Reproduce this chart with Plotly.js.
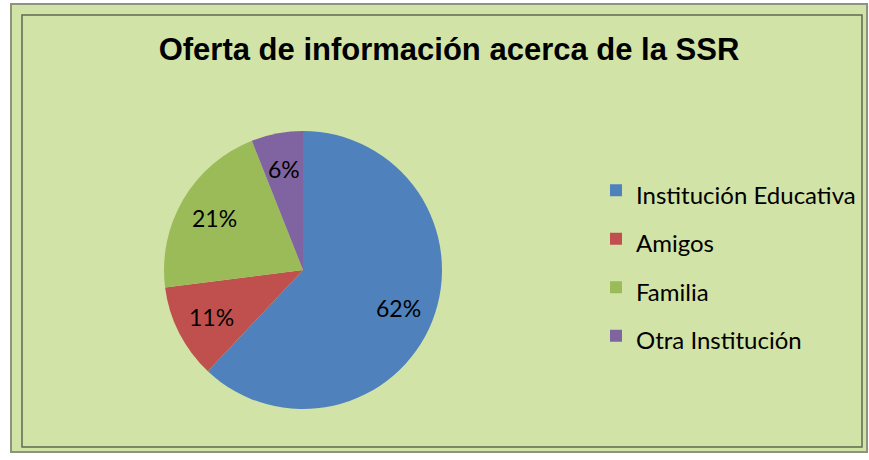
<!DOCTYPE html>
<html>
<head>
<meta charset="utf-8">
<script src="https://cdn.plot.ly/plotly-3.0.1.min.js"></script>
<style>html,body{margin:0;padding:0;background:#fff;}#chart{width:869px;height:460px;}</style>
</head>
<body>
<div id="chart"></div>
<script>
const categories = ["Institución Educativa", "Amigos", "Familia", "Otra Institución"];
const values = [62, 11, 21, 6];
const colors = ["#4f81bd", "#c0504d", "#9bbb59", "#8064a2"];
const titleText = "Oferta de información acerca de la SSR";

const W = 869, H = 460;
const px = x => x / W;
const py = y => 1 - y / H;

// pie placement (pixels)
const pieX0 = 164, pieX1 = 442, pieYTop = 131, pieYBot = 409;
const cx = (pieX0 + pieX1) / 2, cy = (pieYTop + pieYBot) / 2, R = (pieX1 - pieX0) / 2;

const trace = {
  type: "pie",
  labels: categories.map(c => "<span style='font-size:24px'>" + c + "</span>"),
  values: values,
  sort: false,
  direction: "clockwise",
  rotation: 0,
  marker: {colors: colors, line: {width: 0}},
  textinfo: "none",
  hoverinfo: "label+percent",
  domain: {x: [px(pieX0), px(pieX1)], y: [py(pieYBot), py(pieYTop)]}
};

// percentage labels placed along each slice's mid-angle, derived from values
const total = values.reduce((a, b) => a + b, 0);
let cum = 0;
const annotations = values.map(v => {
  const mid = (cum + v / 2) / total * 2 * Math.PI;
  cum += v;
  const r = 0.74 * R;
  return {
    xref: "paper", yref: "paper",
    x: px(cx + r * Math.sin(mid)), y: py(cy - r * Math.cos(mid)),
    text: Math.round(v / total * 100) + "%",
    showarrow: false, xanchor: "center", yanchor: "middle",
    font: {family: "Lato, sans-serif", size: 23, color: "#000"}
  };
});

const layout = {
  width: W, height: H,
  margin: {l: 0, r: 0, t: 0, b: 0},
  paper_bgcolor: "#ffffff",
  showlegend: true,
  title: {
    text: "<b>" + titleText + "</b>",
    font: {family: "Liberation Sans, Arial, sans-serif", size: 31, color: "#000"},
    x: px(449), xanchor: "center", xref: "paper",
    y: py(49), yanchor: "middle", yref: "paper"
  },
  legend: {
    x: px(596), xanchor: "left",
    y: py(263), yanchor: "middle",
    font: {family: "Lato, sans-serif", size: 35, color: "#000"},
    bgcolor: "rgba(0,0,0,0)",
    traceorder: "normal"
  },
  annotations: annotations,
  shapes: [
    {type: "rect", xref: "paper", yref: "paper", layer: "below",
     x0: px(11), x1: px(867), y0: py(452), y1: py(4),
     fillcolor: "#d2e3a7", line: {color: "#8c9480", width: 2}},
    {type: "rect", xref: "paper", yref: "paper", layer: "below",
     x0: px(22), x1: px(862), y0: py(447), y1: py(15),
     fillcolor: "rgba(0,0,0,0)", line: {color: "#5f6b52", width: 1.5}}
  ]
};

Plotly.newPlot("chart", [trace], layout, {displayModeBar: false, staticPlot: true});
</script>
</body>
</html>
